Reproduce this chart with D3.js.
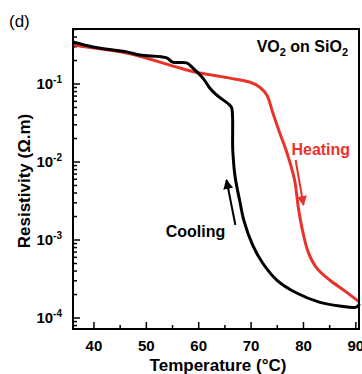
<!DOCTYPE html>
<html>
<head>
<meta charset="utf-8">
<script src="https://cdn.jsdelivr.net/npm/d3@7"></script>
<style>
  body { margin: 0; background: #fff; }
  text { font-family: Arial, "Liberation Sans", sans-serif; }
</style>
</head>
<body>
<svg id="chart" width="362" height="374"></svg>
<script>
// heating curve: temperature (°C), resistivity (Ω.m)
var heatT = [36, 36.4, 46.3, 56.4, 60.2, 65.9, 69.7, 71.6, 73.0, 74.1, 75.4, 76.8, 78.3, 79.0, 79.8, 80.9, 82.5, 85.0, 88.2, 90.7];
var heatR = [0.326, 0.316, 0.249, 0.160, 0.138, 0.119, 0.106, 0.0916, 0.0723, 0.0437, 0.0243, 0.0134, 0.00588, 0.00265, 0.00134, 7.0e-4, 4.4e-4, 3.07e-4, 2.15e-4, 1.60e-4];

// cooling curve
var coolT = [36, 39.8, 46.3, 48.8, 53.9, 55.0, 57.7, 58.9, 60.8, 62.1, 63.4, 65.9, 66.3, 66.5, 66.9, 67.4, 67.8, 68.6, 70.3, 72.2, 74.9, 78.7, 83.0, 86.9, 90.1, 90.7];
var coolR = [0.345, 0.298, 0.257, 0.235, 0.216, 0.191, 0.186, 0.160, 0.119, 0.0889, 0.0723, 0.0538, 0.0492, 0.01426, 0.0068, 0.00437, 0.00326, 0.0018, 8.6e-4, 5.07e-4, 3.07e-4, 2.09e-4, 1.60e-4, 1.43e-4, 1.38e-4, 1.51e-4];

var xTicks = [40, 50, 60, 70, 80, 90];
var xMinor = [45, 55, 65, 75, 85];
var yExp = [-1, -2, -3, -4];

var svg = d3.select('#chart');
var pL = 73, pT = 29, pR = 359, pB = 329;

var x = d3.scaleLinear().domain([36, 90.6]).range([pL, pR]);
var y = d3.scaleLog().domain([0.507, 7.23e-5]).range([pT, pB]);

var red = '#e8332b';

// minor y ticks
var yMinor = [];
[1e-5, 1e-4, 1e-3, 1e-2, 1e-1].forEach(function (d) {
  for (var k = 2; k <= 9; k++) {
    var v = d * k;
    if (v <= y.domain()[0] && v >= y.domain()[1]) yMinor.push(v);
  }
});

var ax = svg.append('g');

ax.selectAll('.ymin').data(yMinor).enter().append('line')
  .attr('x1', pL).attr('x2', pL + 4)
  .attr('y1', d => y(d)).attr('y2', d => y(d))
  .attr('stroke', '#000').attr('stroke-width', 1.5);

ax.selectAll('.ymaj').data(yExp).enter().append('line')
  .attr('x1', pL).attr('x2', pL + 7)
  .attr('y1', d => y(Math.pow(10, d))).attr('y2', d => y(Math.pow(10, d)))
  .attr('stroke', '#000').attr('stroke-width', 1.5);

ax.selectAll('.xmin').data(xMinor).enter().append('line')
  .attr('x1', d => x(d)).attr('x2', d => x(d))
  .attr('y1', pB).attr('y2', pB - 4)
  .attr('stroke', '#000').attr('stroke-width', 1.5);

ax.selectAll('.xmaj').data(xTicks).enter().append('line')
  .attr('x1', d => x(d)).attr('x2', d => x(d))
  .attr('y1', pB).attr('y2', pB - 7)
  .attr('stroke', '#000').attr('stroke-width', 1.5);

// curves
var line = d3.line()
  .x(d => x(d[0]))
  .y(d => y(d[1]))
  .curve(d3.curveCatmullRom.alpha(0.5));

svg.append('path')
  .datum(heatT.map((t, i) => [t, heatR[i]]))
  .attr('d', line)
  .attr('fill', 'none')
  .attr('stroke', red)
  .attr('stroke-width', 3);

svg.append('path')
  .datum(coolT.map((t, i) => [t, coolR[i]]))
  .attr('d', line)
  .attr('fill', 'none')
  .attr('stroke', '#000')
  .attr('stroke-width', 3);

// frame
svg.append('rect')
  .attr('x', pL).attr('y', pT)
  .attr('width', pR - pL).attr('height', pB - pT)
  .attr('fill', 'none').attr('stroke', '#000').attr('stroke-width', 2);

// tick labels
svg.selectAll('.xl').data(xTicks).enter().append('text')
  .attr('x', d => x(d)).attr('y', pB + 22)
  .attr('text-anchor', 'middle')
  .attr('font-size', 15).attr('font-weight', 'bold')
  .text(d => d);

var yl = svg.selectAll('.yl').data(yExp).enter().append('text')
  .attr('x', pL - 11).attr('y', d => y(Math.pow(10, d)) + 5)
  .attr('text-anchor', 'end')
  .attr('font-size', 15).attr('font-weight', 'bold');
yl.append('tspan').text('10');
yl.append('tspan').attr('dy', -6).attr('font-size', 10).text(d => d);

// axis titles
svg.append('text')
  .attr('x', (pL + pR) / 2 + 2).attr('y', 371)
  .attr('text-anchor', 'middle')
  .attr('font-size', 17).attr('font-weight', 'bold')
  .text('Temperature (°C)');

svg.append('text')
  .attr('transform', 'translate(30,' + ((pT + pB) / 2 + 2) + ') rotate(-90)')
  .attr('text-anchor', 'middle')
  .attr('font-size', 17).attr('font-weight', 'bold')
  .text('Resistivity (Ω.m)');

svg.append('text')
  .attr('x', 9).attr('y', 27)
  .attr('font-size', 17)
  .text('(d)');

// sample label
var lab = svg.append('text')
  .attr('x', pR - 11).attr('y', 52)
  .attr('text-anchor', 'end')
  .attr('font-size', 16).attr('font-weight', 'bold');
lab.append('tspan').text('VO');
lab.append('tspan').attr('dy', 4).attr('font-size', 11).text('2');
lab.append('tspan').attr('dy', -4).text(' on SiO');
lab.append('tspan').attr('dy', 4).attr('font-size', 11).text('2');

// annotations
svg.append('defs').selectAll('marker').data([['ah-red', red], ['ah-black', '#000']])
  .enter().append('marker')
  .attr('id', d => d[0])
  .attr('viewBox', '0 0 10 10')
  .attr('refX', 9).attr('refY', 5)
  .attr('markerWidth', 5).attr('markerHeight', 6)
  .attr('markerUnits', 'strokeWidth')
  .attr('orient', 'auto')
  .append('path').attr('d', 'M0,0 L10,5 L0,10 z').attr('fill', d => d[1]);

svg.append('text')
  .attr('x', x(77.7)).attr('y', y(0.0123))
  .attr('font-size', 16).attr('font-weight', 'bold')
  .attr('fill', red)
  .text('Heating');

svg.append('line')
  .attr('x1', x(78.5)).attr('y1', y(Math.pow(10, -1.974)))
  .attr('x2', x(80.0)).attr('y2', y(Math.pow(10, -2.551)))
  .attr('stroke', red).attr('stroke-width', 2)
  .attr('marker-end', 'url(#ah-red)');

svg.append('text')
  .attr('x', x(53.7)).attr('y', y(0.0011))
  .attr('font-size', 16).attr('font-weight', 'bold')
  .text('Cooling');

svg.append('line')
  .attr('x1', x(67.0)).attr('y1', y(Math.pow(10, -2.808)))
  .attr('x2', x(65.3)).attr('y2', y(Math.pow(10, -2.231)))
  .attr('stroke', '#000').attr('stroke-width', 2)
  .attr('marker-end', 'url(#ah-black)');
</script>
</body>
</html>
